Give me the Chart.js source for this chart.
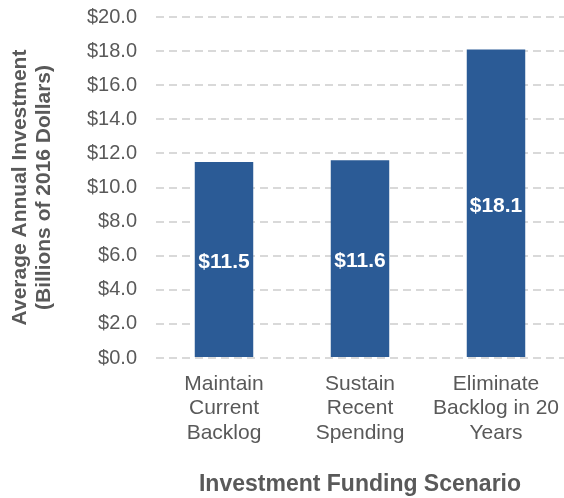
<!DOCTYPE html>
<html>
<head>
<meta charset="utf-8">
<script src="https://cdn.jsdelivr.net/npm/chart.js@4"></script>
<style>
  html, body { margin: 0; padding: 0; background: #fff; }
  #wrap { width: 564px; height: 498px; }
</style>
</head>
<body>
<div id="wrap"><canvas id="investChart"></canvas></div>
<script>
// Scenarios and average annual investment (billions of 2016 dollars)
const scenarios = [
    ['Maintain', 'Current', 'Backlog'],
    ['Sustain', 'Recent', 'Spending'],
    ['Eliminate', 'Backlog in 20', 'Years']
];
const investment = [11.5, 11.6, 18.1];

const textGray = '#595959';
const barBlue = '#2b5b96';
const fontFamily = '"Liberation Sans", Arial, sans-serif';

// Writes each bar's value in the middle of the bar
const barValueLabels = {
    id: 'barValueLabels',
    afterDatasetsDraw(chart) {
        const ctx = chart.ctx;
        const meta = chart.getDatasetMeta(0);
        ctx.save();
        ctx.fillStyle = '#ffffff';
        ctx.font = 'bold 21px ' + fontFamily;
        ctx.textAlign = 'center';
        ctx.textBaseline = 'middle';
        meta.data.forEach((bar, i) => {
            const v = chart.data.datasets[0].data[i];
            ctx.fillText('$' + v.toFixed(1), bar.x, (bar.y + bar.base) / 2 + 3);
        });
        ctx.restore();
    }
};

const ctx = document.getElementById('investChart').getContext('2d');
const investChart = new Chart(ctx, {
    type: 'bar',
    data: {
        labels: scenarios,
        datasets: [{
            label: 'Average Annual Investment',
            data: investment,
            backgroundColor: barBlue,
            borderWidth: 0,
            barPercentage: 0.43,
            categoryPercentage: 1
        }]
    },
    options: {
        responsive: true,
        maintainAspectRatio: false,
        animation: false,
        layout: {
            padding: { top: 17, right: -1, bottom: 0, left: 8 }
        },
        plugins: {
            legend: { display: false },
            tooltip: { enabled: false }
        },
        scales: {
            x: {
                grid: { display: false, drawTicks: false },
                border: { display: false },
                ticks: {
                    color: textGray,
                    padding: 14,
                    maxRotation: 0,
                    autoSkip: false,
                    font: { family: fontFamily, size: 21, lineHeight: 1.16 }
                },
                title: {
                    display: true,
                    text: 'Investment Funding Scenario',
                    color: textGray,
                    padding: { top: 0, bottom: 0 },
                    font: { family: fontFamily, size: 23, weight: 'bold' }
                },
                afterFit(scale) {
                    scale.height = 140;
                    // let the outer labels run to the canvas edge
                    scale.paddingLeft = 0;
                    scale.paddingRight = 0;
                }
            },
            y: {
                min: 0,
                max: 20,
                grid: {
                    color: '#d9d9d9',
                    lineWidth: 2,
                    drawTicks: false
                },
                border: { display: false, dash: [8, 5] },
                ticks: {
                    stepSize: 2,
                    color: textGray,
                    padding: 19,
                    font: { family: fontFamily, size: 20 },
                    callback: v => '$' + v.toFixed(1)
                },
                title: {
                    display: true,
                    text: ['Average Annual Investment', '(Billions of 2016 Dollars)'],
                    color: textGray,
                    padding: { top: 0, bottom: 0 },
                    font: { family: fontFamily, size: 21, weight: 'bold', lineHeight: 1.15 }
                },
                afterFit(scale) {
                    scale.width = 148;
                    scale.paddingTop = 0;
                    scale.paddingBottom = 0;
                }
            }
        }
    },
    plugins: [barValueLabels]
});
</script>
</body>
</html>
